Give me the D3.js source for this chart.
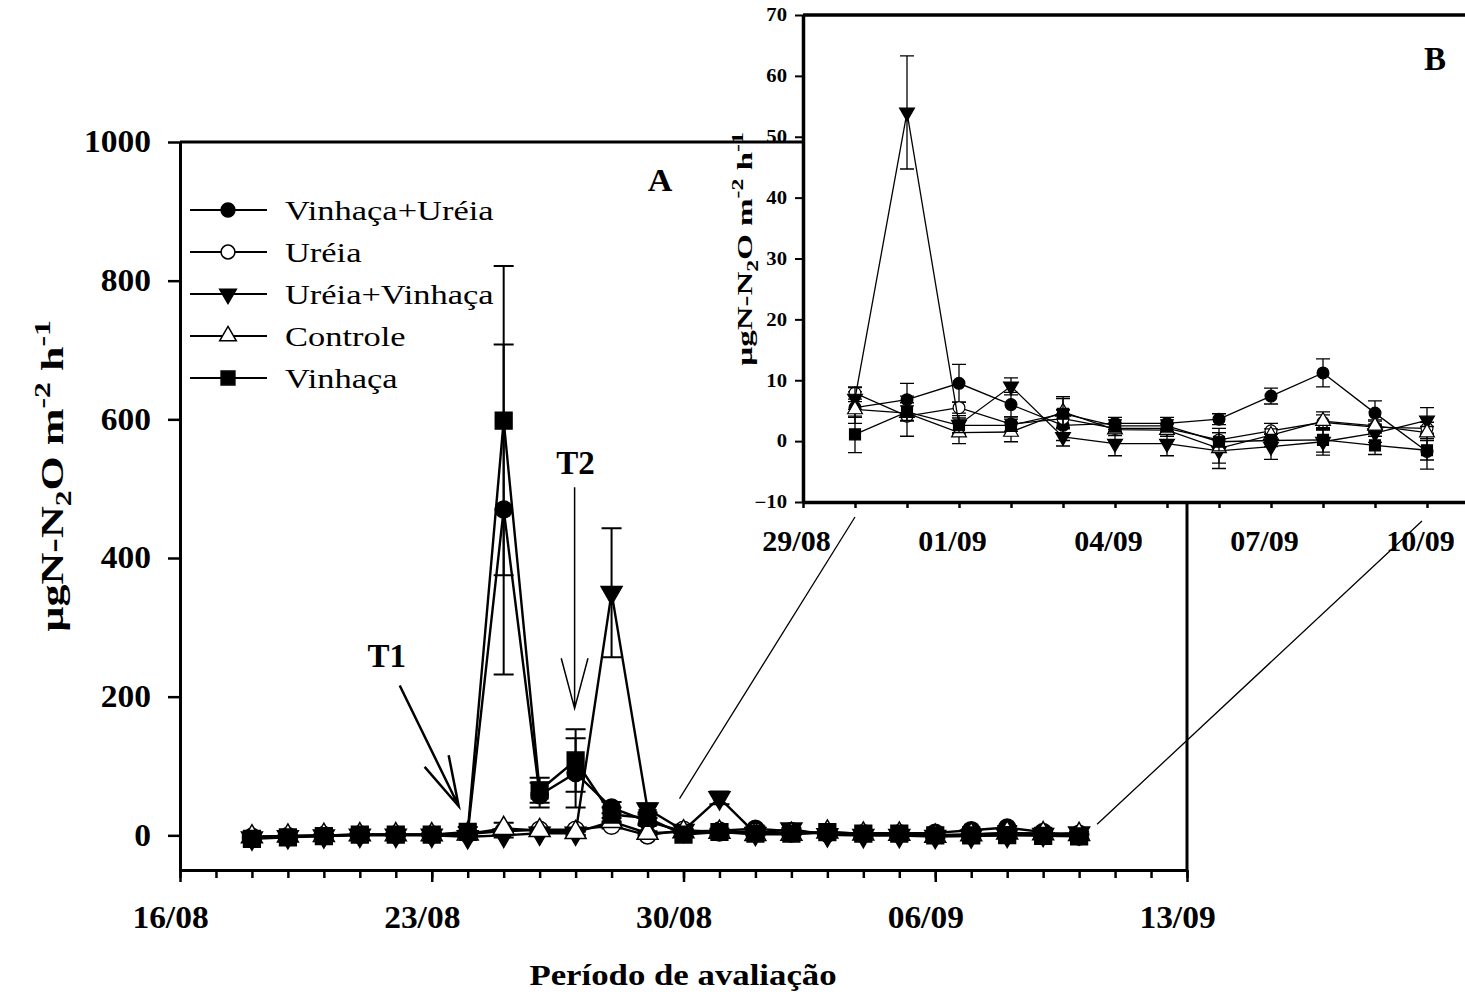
<!DOCTYPE html>
<html>
<head>
<meta charset="utf-8">
<script src="https://cdn.jsdelivr.net/npm/d3@7"></script>
<style>
  body { margin: 0; background: #fff; }
  svg { display: block; font-family: "Liberation Serif", "Times New Roman", serif; }
</style>
</head>
<body>
<svg id="chart" width="1465" height="1000"></svg>
<script>
// datas de coleta (18/08 a 10/09)
const datas = ['18/08','19/08','20/08','21/08','22/08','23/08','24/08','25/08','26/08','27/08','28/08','29/08',
               '30/08','31/08','01/09','02/09','03/09','04/09','05/09','06/09','07/09','08/09','09/09','10/09'];

// fluxo de N2O (µgN-N2O m-2 h-1)
const vinhacaUreia    = [-3,-2,0,1,1,1,3,470,58,90,40,20, 5.5,6.8,9.5,6.0,2.6,2.9,2.9,3.6,7.4,11.2,4.6,-1.7];
const vinhacaUreiaErr = [2,2,2,2,2,2,3,238,18,50,8,5, 2.6,2.7,3.1,2.0,2.5,1.0,1.0,0.9,1.3,2.3,2.0,2.9];
const ureia           = [-2,-1,0,1,1,1,2,6,8,8,14,0, 7.9,4.1,5.5,2.8,3.7,2.1,2.1,0.2,1.7,3.1,2.3,2.1];
const ureiaErr        = [2,2,2,2,2,2,2,3,3,3,4,3, 1.0,3.3,0.9,1.2,1.5,0.8,0.8,1.2,1.2,1.2,1.0,1.0];
const ureiaVinhaca    = [-4,-2,-1,0,0,0,-2,0,3,3,350,38, 7.0,54,2.7,9.0,0.7,-0.4,-0.4,-1.6,-0.9,-0.1,1.3,3.4];
const ureiaVinhacaErr = [2,2,2,2,2,2,3,3,3,3,93,8, 1.8,9.3,1.5,1.4,1.5,2.0,2.0,2.0,2.1,2.2,1.5,2.1];
const controle        = [-2,-1,0,1,1,1,2,10,7,4,20,3, 5.2,4.6,1.4,1.5,4.8,1.9,1.8,-1.2,1.0,3.3,2.5,1.4];
const controleErr     = [2,2,2,2,2,2,2,8,4,3,5,3, 1.3,1.2,1.8,1.6,2.5,1.0,1.0,3.3,1.0,1.5,1.0,1.0];
const vinhaca         = [-5,-3,-1,1,1,1,5,598,65,108,30,25, 1.1,4.8,2.6,2.6,4.5,2.5,2.5,-0.1,0.1,0.2,-0.7,-1.5];
const vinhacaErr      = [2,2,2,2,2,2,7,223,18,45,10,8, 3.0,1.5,1.2,1.0,2.5,1.0,1.0,1.5,1.0,2.0,1.5,1.6];

const nomes = ['Vinhaça+Uréia','Uréia','Uréia+Vinhaça','Controle','Vinhaça'];

// eixos
const ticksYA = [0,200,400,600,800,1000];
const ticksXA = ['16/08','23/08','30/08','06/09','13/09'];
const ticksYB = [-10,0,10,20,30,40,50,60,70];
const ticksXB = ['29/08','01/09','04/09','07/09','10/09'];
const inicioB = '30/08'; // o detalhe (B) começa aqui

const parse = d3.timeParse('%d/%m');
const fmt = d3.timeFormat('%d/%m');

const series = [
  { nome: nomes[0], v: vinhacaUreia, e: vinhacaUreiaErr, sym: d3.symbolCircle,   fill: '#000', rot: 0 },
  { nome: nomes[1], v: ureia,        e: ureiaErr,        sym: d3.symbolCircle,   fill: '#fff', rot: 0 },
  { nome: nomes[2], v: ureiaVinhaca, e: ureiaVinhacaErr, sym: d3.symbolTriangle, fill: '#000', rot: 180 },
  { nome: nomes[3], v: controle,     e: controleErr,     sym: d3.symbolTriangle, fill: '#fff', rot: 0 },
  { nome: nomes[4], v: vinhaca,      e: vinhacaErr,      sym: d3.symbolSquare,   fill: '#000', rot: 0 }
];

const svg = d3.select('#chart');

// tamanhos de símbolo (área) por painel
const symSize = {
  A: { circle: 230, tri: 190, square: 280 },
  B: { circle: 110, tri: 95, square: 120 },
  L: { circle: 150, tri: 120, square: 190 }
};
function symPath(s, sizes) {
  const size = s.sym === d3.symbolCircle ? sizes.circle : s.sym === d3.symbolSquare ? sizes.square : sizes.tri;
  return d3.symbol(s.sym, size)();
}

// texto "esticado" na horizontal (a fonte original é mais larga que a Times)
function texto(g, x, y, str, o) {
  return g.append('text')
    .attr('transform', `translate(${x},${y}) rotate(${o.rot || 0}) scale(${o.sx || 1},1)`)
    .attr('text-anchor', o.anchor || 'start')
    .attr('font-size', o.size)
    .attr('font-weight', o.bold ? 'bold' : null)
    .text(str);
}
function estica(sel, sx, dx) {
  sel.each(function () {
    const t = d3.select(this);
    const x = +t.attr('x') || 0;
    t.attr('x', (x + (dx || 0)) / sx).attr('transform', `scale(${sx},1)`);
  });
}
function estiloEixo(a, size, sx, dx) {
  a.attr('font-family', null).attr('font-size', null);
  a.selectAll('text').attr('font-size', size).attr('font-weight', 'bold').attr('fill', '#000')
    .call(estica, sx, dx);
}

// ---------- Painel A ----------
const xA = d3.scaleTime().domain([parse('16/08'), parse('13/09')]).range([180, 1187]);
const yA = d3.scaleLinear().domain([-50, 1000]).range([870, 142]);

const gA = svg.append('g');

function drawSeries(g, x, y, idx, opt) {
  series.forEach((s) => {
    const pts = idx.map((i) => ({ d: parse(datas[i]), v: s.v[i], e: s.e[i] }));
    const gs = g.append('g');
    // barras de erro
    gs.selectAll('path.err').data(pts).join('path')
      .attr('class', 'err')
      .attr('d', (p) => {
        const cx = x(p.d), y0 = y(p.v - p.e), y1 = y(p.v + p.e), w = opt.cap;
        return `M${cx},${y0}V${y1}M${cx - w},${y0}H${cx + w}M${cx - w},${y1}H${cx + w}`;
      })
      .attr('fill', 'none').attr('stroke', '#000').attr('stroke-width', opt.errW);
    gs.append('path')
      .datum(pts)
      .attr('d', d3.line().x((p) => x(p.d)).y((p) => y(p.v)))
      .attr('fill', 'none').attr('stroke', '#000').attr('stroke-width', opt.lineW);
    gs.selectAll('path.mk').data(pts).join('path')
      .attr('class', 'mk')
      .attr('d', symPath(s, opt.sizes))
      .attr('transform', (p) => `translate(${x(p.d)},${y(p.v)}) rotate(${s.rot})`)
      .attr('fill', s.fill).attr('stroke', '#000').attr('stroke-width', opt.mkW);
  });
}

function yTitle(g, tx, ty, size, sx) {
  const t = g.append('text')
    .attr('transform', `translate(${tx},${ty}) rotate(-90) scale(${sx},1)`)
    .attr('text-anchor', 'middle').attr('font-weight', 'bold').attr('font-size', size);
  t.append('tspan').text('µgN-N');
  t.append('tspan').attr('font-size', size * 0.72).attr('dy', size * 0.25).text('2');
  t.append('tspan').attr('dy', -size * 0.25).text('O m');
  t.append('tspan').attr('font-size', size * 0.72).attr('dy', -size * 0.42).text('-2');
  t.append('tspan').attr('dy', size * 0.42).text(' h');
  t.append('tspan').attr('font-size', size * 0.72).attr('dy', -size * 0.42).text('-1');
}

// moldura
gA.append('path')
  .attr('d', `M${xA.range()[0]},${yA.range()[1]}H${xA.range()[1]}V${yA.range()[0]}`)
  .attr('fill', 'none').attr('stroke', '#000').attr('stroke-width', 3);

// eixo x: ticks diários + rótulos semanais
const diasA = d3.timeDay.range(xA.domain()[0], d3.timeDay.offset(xA.domain()[1], 1));
gA.append('g').attr('transform', `translate(0,${yA.range()[0]})`)
  .call(d3.axisBottom(xA).tickValues(diasA).tickSize(8).tickSizeOuter(0).tickFormat(''))
  .call((a) => a.select('.domain').attr('stroke-width', 3))
  .call((a) => a.selectAll('.tick line').attr('stroke-width', 2.5));
gA.append('g').attr('transform', `translate(0,${yA.range()[0]})`)
  .call(d3.axisBottom(xA).tickValues(ticksXA.map(parse)).tickSize(12).tickSizeOuter(0).tickPadding(24).tickFormat(fmt))
  .call((a) => a.select('.domain').remove())
  .call((a) => a.selectAll('.tick line').attr('stroke-width', 2.5))
  .call(estiloEixo, 31, 1.08, -10);

gA.append('g').attr('transform', `translate(${xA.range()[0]},0)`)
  .call(d3.axisLeft(yA).tickValues(ticksYA).tickSize(12).tickSizeOuter(0).tickPadding(17).tickFormat(d3.format('d')))
  .call((a) => a.select('.domain').attr('stroke-width', 3))
  .call((a) => a.selectAll('.tick line').attr('stroke-width', 2.5))
  .call(estiloEixo, 31, 1.08, 0);

drawSeries(gA, xA, yA, d3.range(datas.length), { cap: 10, errW: 2, lineW: 2.4, mkW: 1.5, sizes: symSize.A });

yTitle(gA, 63, 476, 31, 1.42);
texto(gA, 683, 985, 'Período de avaliação', { size: 30, bold: true, anchor: 'middle', sx: 1.16 });
texto(gA, 660, 191, 'A', { size: 31, bold: true, anchor: 'middle', sx: 1.1 });

// setas T1 e T2
function seta(g, x0, y0, x1, y1, w, head) {
  const ang = Math.atan2(y1 - y0, x1 - x0);
  const a1 = ang + Math.PI - 0.26, a2 = ang + Math.PI + 0.26;
  g.append('path')
    .attr('d', `M${x0},${y0}L${x1},${y1}M${x1 + head * Math.cos(a1)},${y1 + head * Math.sin(a1)}L${x1},${y1}L${x1 + head * Math.cos(a2)},${y1 + head * Math.sin(a2)}`)
    .attr('fill', 'none').attr('stroke', '#000').attr('stroke-width', w);
}
const dT1 = parse('24/08'), dT2 = parse('27/08');
seta(gA, xA(dT1) - 68, yA(216), xA(dT1) - 9, yA(42), 2.5, 52);
seta(gA, xA(dT2) - 1, yA(502), xA(dT2) - 1, yA(183), 1.5, 52);
texto(gA, xA(dT1) - 81, 667, 'T1', { size: 33, bold: true, anchor: 'middle' });
texto(gA, xA(dT2), 474, 'T2', { size: 33, bold: true, anchor: 'middle' });

// legenda
const leg = gA.append('g');
series.forEach((s, i) => {
  const ly = 210 + i * 42;
  leg.append('line').attr('x1', 190).attr('x2', 267).attr('y1', ly).attr('y2', ly)
    .attr('stroke', '#000').attr('stroke-width', 2);
  leg.append('path').attr('d', symPath(s, symSize.L))
    .attr('transform', `translate(228,${ly}) rotate(${s.rot})`)
    .attr('fill', s.fill).attr('stroke', '#000').attr('stroke-width', 1.5);
  texto(leg, 285, ly + 10, s.nome, { size: 28, sx: 1.23 });
});

// ---------- Painel B (detalhe) ----------
const xB = d3.scaleTime().domain([parse('29/08'), parse('11/09')]).range([803, 1479]);
const yB = d3.scaleLinear().domain([-10, 70]).range([502, 15]);
const gB = svg.append('g');

gB.append('rect').attr('x', xB.range()[0]).attr('y', yB.range()[1])
  .attr('width', xB.range()[1] - xB.range()[0]).attr('height', yB.range()[0] - yB.range()[1]).attr('fill', '#fff');
gB.append('path')
  .attr('d', `M${xB.range()[1]},${yB.range()[1]}H${xB.range()[0]}`)
  .attr('fill', 'none').attr('stroke', '#000').attr('stroke-width', 3.5);

const diasB = d3.timeDay.range(xB.domain()[0], d3.timeDay.offset(xB.domain()[1], 1));
gB.append('g').attr('transform', `translate(0,${yB.range()[0]})`)
  .call(d3.axisBottom(xB).tickValues(diasB).tickSize(6).tickSizeOuter(0).tickFormat(''))
  .call((a) => a.select('.domain').attr('stroke-width', 3.5))
  .call((a) => a.selectAll('.tick line').attr('stroke-width', 2.5));
gB.append('g').attr('transform', `translate(0,${yB.range()[0]})`)
  .call(d3.axisBottom(xB).tickValues(ticksXB.map(parse)).tickSize(0).tickSizeOuter(0).tickPadding(28).tickFormat(fmt))
  .call((a) => a.select('.domain').remove())
  .call(estiloEixo, 30, 1.0, -7);

gB.append('g').attr('transform', `translate(${xB.range()[0]},0)`)
  .call(d3.axisLeft(yB).tickValues(ticksYB).tickSize(8).tickSizeOuter(0).tickPadding(8))
  .call((a) => a.select('.domain').attr('stroke-width', 3.5))
  .call((a) => a.selectAll('.tick line').attr('stroke-width', 2))
  .call(estiloEixo, 18, 1.15, 0);

const iB = d3.range(datas.indexOf(inicioB), datas.length);
drawSeries(gB, xB, yB, iB, { cap: 7, errW: 1.3, lineW: 1.3, mkW: 1.2, sizes: symSize.B });

yTitle(gB, 752, 249, 22, 1.5);
texto(gB, 1435, 70, 'B', { size: 33, bold: true, anchor: 'middle' });

// linhas de ligação A -> B
const d0 = parse(inicioB), d1 = parse(datas[datas.length - 1]);
svg.append('path')
  .attr('d', `M${xA(d0) - 4},${yA(53)}L${xB(d0)},${yB(-10) + 15}M${xA(d1) + 18},${yA(16)}L${xB(d1) - 5},${yB(-10) + 19}`)
  .attr('fill', 'none').attr('stroke', '#000').attr('stroke-width', 1.3);
</script>
</body>
</html>
